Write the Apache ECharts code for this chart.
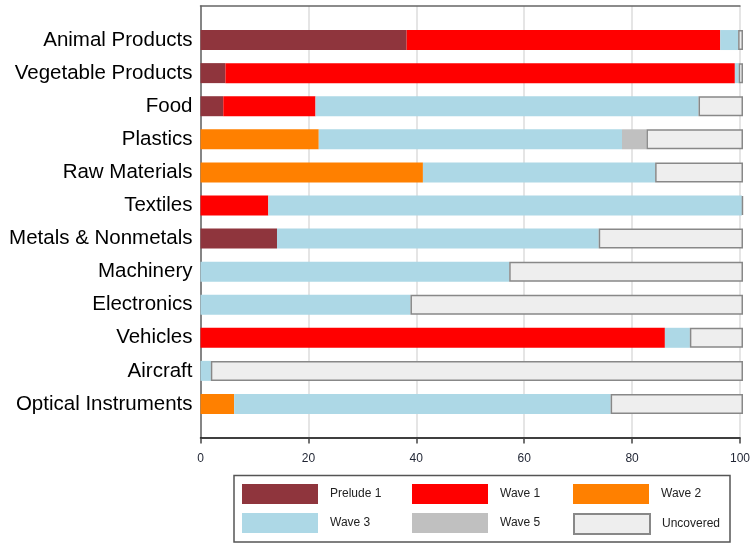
<!DOCTYPE html>
<html>
<head>
<meta charset="utf-8">
<script src="https://cdn.jsdelivr.net/npm/echarts@6/dist/echarts.min.js"></script>
<style>
  html, body { margin: 0; padding: 0; background: #fff; }
  #showplace1 { width: 753px; height: 544px; }
</style>
</head>
<body>
<div id="showplace1"></div>
<script>
var categories = ['Animal Products', 'Vegetable Products', 'Food', 'Plastics', 'Raw Materials', 'Textiles',
  'Metals & Nonmetals', 'Machinery', 'Electronics', 'Vehicles', 'Aircraft', 'Optical Instruments'];

var prelude1  = [38.0, 4.6, 4.2, 0, 0, 0, 14.1, 0, 0, 0, 0, 0];
var wave1     = [57.8, 93.9, 17.0, 0, 0, 12.5, 0, 0, 0, 85.6, 0, 0];
var wave2     = [0, 0, 0, 21.8, 41.0, 0, 0, 0, 0, 0, 0, 6.2];
var wave3     = [3.3, 0.7, 70.6, 55.9, 42.8, 87.3, 59.3, 56.9, 38.7, 4.6, 1.9, 69.4];
var wave5     = [0, 0, 0, 4.5, 0, 0, 0, 0, 0, 0, 0, 0];
var uncovered = [0.9, 0.8, 8.2, 17.8, 16.2, 0.2, 26.6, 43.1, 61.3, 9.8, 98.1, 24.4];

var xTicks = [0, 20, 40, 60, 80, 100];

var fontName = '"Liberation Sans", Arial, sans-serif';
var chart = echarts.init(document.getElementById('showplace1'));

// one series per wave, all stacked to 100
var mk = function (name, data, color, border) {
  var s = {
    name: name,
    type: 'bar',
    stack: 'total',
    xAxisIndex: 0,
    yAxisIndex: 0,
    barWidth: 20,
    data: data,
    itemStyle: { color: color },
    emphasis: { disabled: true },
    animation: false
  };
  if (border) {
    s.itemStyle.borderColor = '#888';
    s.itemStyle.borderWidth = 1.5;
  }
  return s;
};

// legend laid out as 3x2 boxes, each placed on its own
var legendPos = [
  ['Prelude 1', 242, 484], ['Wave 1', 412, 484], ['Wave 2', 573, 484],
  ['Wave 3', 242, 513], ['Wave 5', 412, 513], ['Uncovered', 573, 513]
];
var legends = [];
for (var i = 0; i < legendPos.length; i++) {
  legends.push({
    data: [legendPos[i][0]],
    left: legendPos[i][1],
    top: legendPos[i][2],
    padding: 0,
    icon: 'rect',
    itemWidth: 76,
    itemHeight: 20,
    selectedMode: false,
    textStyle: { fontFamily: fontName, fontSize: 12, color: '#222', padding: [0, 0, 0, 7] }
  });
}

var option = {
  animation: false,
  legend: legends,
  grid: [
    { left: 200.5, right: 10, top: 23.5, bottom: 123.5 },
    { left: 200.5, right: 10, top: 6, bottom: 106.5 }
  ],
  xAxis: [
    { type: 'value', gridIndex: 0, min: 0, max: 100, interval: 20, show: false },
    {
      type: 'value', gridIndex: 1, min: xTicks[0], max: xTicks[xTicks.length - 1], interval: 20,
      axisLine: { show: true, lineStyle: { color: '#000', width: 1.5 } },
      axisTick: { show: true, length: 6, lineStyle: { color: '#444', width: 1.5 } },
      axisLabel: { color: '#1f2433', fontSize: 12, fontFamily: fontName, margin: 15 },
      splitLine: { show: true, lineStyle: { color: '#dcdcdc', width: 1.5 } }
    },
    {
      type: 'value', gridIndex: 1, position: 'top', min: 0, max: 100,
      axisLine: { show: true, onZero: false, lineStyle: { color: '#666', width: 1.5 } },
      axisTick: { show: false }, axisLabel: { show: false }, splitLine: { show: false }
    }
  ],
  yAxis: [
    {
      type: 'category', gridIndex: 0, data: categories, inverse: true,
      axisLine: { show: false }, axisTick: { show: false },
      axisLabel: { color: '#000', fontSize: 20.5, fontFamily: fontName, margin: 8 }
    },
    {
      type: 'value', gridIndex: 1, min: 0, max: 1,
      axisLine: { show: true, lineStyle: { color: '#666', width: 1.5 } },
      axisTick: { show: false }, axisLabel: { show: false }, splitLine: { show: false }
    }
  ],
  graphic: [{
    type: 'rect',
    shape: { x: 234, y: 475.5, width: 496, height: 66.5 },
    style: { fill: 'none', stroke: '#555', lineWidth: 1.5 },
    z: -1
  }],
  series: [
    mk('Prelude 1', prelude1, '#8f353d'),
    mk('Wave 1', wave1, '#ff0000'),
    mk('Wave 2', wave2, '#ff8000'),
    mk('Wave 3', wave3, '#add8e6'),
    mk('Wave 5', wave5, '#c0c0c0'),
    mk('Uncovered', uncovered, '#eeeeee', true)
  ]
};
chart.setOption(option);
</script>
</body>
</html>
